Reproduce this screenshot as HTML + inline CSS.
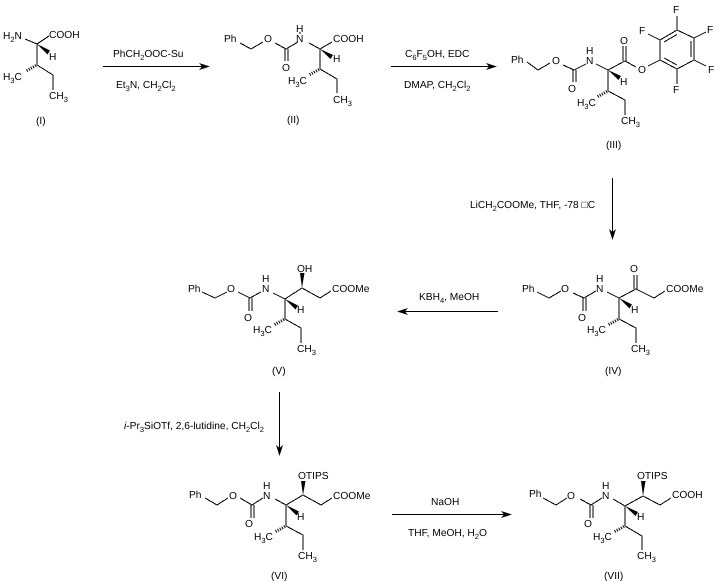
<!DOCTYPE html>
<html><head><meta charset="utf-8"><style>
html,body{margin:0;padding:0;background:#fff;width:722px;height:581px;overflow:hidden}
svg{display:block}
text{font-family:"Liberation Sans",sans-serif;font-size:10.2px;fill:#000;text-rendering:geometricPrecision}
tspan.s{font-size:7.5px}
path.b{fill:none;stroke:#000;stroke-width:1;shape-rendering:crispEdges}
path.h{fill:none;stroke:#000;stroke-width:3;stroke-dasharray:1 1.4}
path.w,polygon{fill:#000;stroke:none}
</style></head><body>
<svg width="722" height="581" viewBox="0 0 722 581" xmlns="http://www.w3.org/2000/svg">
<rect width="722" height="581" fill="#fff"/>

<!-- I -->
<path class="b" d="M25 39L37 44L49 36M37 44V65L53 75V90"/>
<path class="w" d="M37 44L50 50.500L47.500 54.500Z"/>
<path class="h" d="M36 65.500L26 71"/>
<text x="3" y="39">H<tspan class="s" dy="3">2</tspan><tspan dy="-3">N</tspan></text>
<text x="49" y="38">COOH</text>
<text x="49" y="60">H</text>
<text x="3" y="80">H<tspan class="s" dy="3">3</tspan><tspan dy="-3">C</tspan></text>
<text x="49" y="99">CH<tspan class="s" dy="3">3</tspan></text>
<text x="36" y="124">(I)</text>

<!-- Arrow 1 -->
<path class="b" d="M103 66.500H205"/>
<polygon points="210,66.500 199,63 202,66.500 199,70"/>
<text x="113" y="57">PhCH<tspan class="s" dy="3">2</tspan><tspan dy="-3">OOC-Su</tspan></text>
<text x="116" y="88">Et<tspan class="s" dy="3">3</tspan><tspan dy="-3">N, CH</tspan><tspan class="s" dy="3">2</tspan><tspan dy="-3">Cl</tspan><tspan class="s" dy="3">2</tspan></text>

<!-- II -->
<path class="b" d="M240 43L251 49L263 42M275 43L286 49L298 42M285 49V61M288 49V61M300 32V34M309 43L320 49L332 42M320 49V69L337 79V93"/>
<path class="w" d="M320 49L333 55L330.500 59Z"/>
<path class="h" d="M319 69.500L309 75"/>
<text x="224" y="42">Ph</text>
<text x="264" y="42">O</text>
<text x="296" y="42">N</text>
<text x="296" y="32">H</text>
<text x="282" y="71">O</text>
<text x="333" y="42">COOH</text>
<text x="333" y="62">H</text>
<text x="288" y="84">H<tspan class="s" dy="3">3</tspan><tspan dy="-3">C</tspan></text>
<text x="333" y="103">CH<tspan class="s" dy="3">3</tspan></text>
<text x="287" y="123">(II)</text>

<!-- Arrow 2 -->
<path class="b" d="M391 66.500H492"/>
<polygon points="497,66.500 486,63 489,66.500 486,70"/>
<text x="405" y="57">C<tspan class="s" dy="3">6</tspan><tspan dy="-3">F</tspan><tspan class="s" dy="3">5</tspan><tspan dy="-3">OH, EDC</tspan></text>
<text x="404" y="88">DMAP, CH<tspan class="s" dy="3">2</tspan><tspan dy="-3">Cl</tspan><tspan class="s" dy="3">2</tspan></text>

<!-- III -->
<path class="b" d="M527 62L538 70L550 63M563 65L574 70L586 64M573 70V82M576 70V82M596 64L608 70L625 61L636 67M623 46V61M626 46V61M648 66L660 60V40L677 30L694 38V60L677 69L660 60M664 42L677 34.500M691 41V57M664 58L677 65M677 30V16M660 40L648 34M694 38L706 32M694 60L706 66M677 69V84M608 70V91L625 100V115"/>
<path class="w" d="M608 70L621 76L618.500 80Z"/>
<path class="h" d="M607 91.500L597 97"/>
<text x="511" y="63">Ph</text>
<text x="552" y="64">O</text>
<text x="586" y="64">N</text>
<text x="586" y="54">H</text>
<text x="568" y="92">O</text>
<text x="620" y="44">O</text>
<text x="638" y="73">O</text>
<text x="673" y="13">F</text>
<text x="639" y="34">F</text>
<text x="707" y="33">F</text>
<text x="708" y="73">F</text>
<text x="673" y="93">F</text>
<text x="620" y="85">H</text>
<text x="577" y="106">H<tspan class="s" dy="3">3</tspan><tspan dy="-3">C</tspan></text>
<text x="621" y="124">CH<tspan class="s" dy="3">3</tspan></text>
<text x="606" y="148">(III)</text>

<!-- Arrow 3 -->
<path class="b" d="M612.500 178V235"/>
<polygon points="612.500,240 609,229 612.500,232 616,229"/>
<text x="470" y="208">LiCH<tspan class="s" dy="3">2</tspan><tspan dy="-3">COOMe, THF, -78 □C</tspan></text>

<!-- IV -->
<path class="b" d="M537 292L549 298L561 291M573 293L584 298L596 291M583 298V311M586 298V311M607 292L619 298L636 289L654 298L665 291M634 275V289M637 275V289M619 298V319L636 328V343"/>
<path class="w" d="M619 298L632 304.500L629.500 308.500Z"/>
<path class="h" d="M618 319.500L608 325"/>
<text x="522" y="292">Ph</text>
<text x="561" y="292">O</text>
<text x="596" y="292">N</text>
<text x="596" y="282">H</text>
<text x="578" y="321">O</text>
<text x="630" y="272">O</text>
<text x="666" y="292">COOMe</text>
<text x="631" y="313">H</text>
<text x="587" y="333">H<tspan class="s" dy="3">3</tspan><tspan dy="-3">C</tspan></text>
<text x="631" y="352">CH<tspan class="s" dy="3">3</tspan></text>
<text x="605" y="374">(IV)</text>

<!-- Arrow 4 -->
<path class="b" d="M498 311.500H402"/>
<polygon points="397,311.500 408,308 405,311.500 408,315"/>
<text x="419" y="300">KBH<tspan class="s" dy="3">4</tspan><tspan dy="-3">, MeOH</tspan></text>

<!-- V -->
<path class="b" d="M202 292L215 298L227 292M238 292L250 298L261 292M249 298V311M252 298V311M273 293L285 299L302 288L320 298L331 291M285 299V319L301 328V343"/>
<path class="w" d="M285 299L298 305.500L295.500 309.500Z"/>
<path class="w" d="M302 288L300 273H304.500Z"/>
<path class="h" d="M284 319.500L274 325"/>
<text x="188" y="292">Ph</text>
<text x="227" y="292">O</text>
<text x="262" y="292">N</text>
<text x="262" y="282">H</text>
<text x="244" y="321">O</text>
<text x="297" y="272">OH</text>
<text x="332" y="292">COOMe</text>
<text x="297" y="313">H</text>
<text x="253" y="333">H<tspan class="s" dy="3">3</tspan><tspan dy="-3">C</tspan></text>
<text x="297" y="352">CH<tspan class="s" dy="3">3</tspan></text>
<text x="272" y="374">(V)</text>

<!-- Arrow 5 -->
<path class="b" d="M279.500 392V451"/>
<polygon points="279.500,456 276,445 279.500,448 283,445"/>
<text x="124" y="429"><tspan font-style="italic">i</tspan>-Pr<tspan class="s" dy="3">3</tspan><tspan dy="-3">SiOTf, 2,6-lutidine, CH</tspan><tspan class="s" dy="3">2</tspan><tspan dy="-3">Cl</tspan><tspan class="s" dy="3">2</tspan></text>

<!-- VI -->
<path class="b" d="M205 498L217 505L228 498M240 498L252 505L263 498M251 505V518M254 505V518M275 499L286 505L303 495L321 505L332 498M286 505V526L303 535V550"/>
<path class="w" d="M286 505L299 511.500L296.500 515.500Z"/>
<path class="w" d="M303 495L301 481H305.500Z"/>
<path class="h" d="M285 526.500L275 532"/>
<text x="189" y="498">Ph</text>
<text x="229" y="499">O</text>
<text x="263" y="499">N</text>
<text x="263" y="489">H</text>
<text x="245" y="527">O</text>
<text x="298" y="479">OTIPS</text>
<text x="333" y="499">COOMe</text>
<text x="297" y="520">H</text>
<text x="254" y="540">H<tspan class="s" dy="3">3</tspan><tspan dy="-3">C</tspan></text>
<text x="298" y="559">CH<tspan class="s" dy="3">3</tspan></text>
<text x="271" y="579">(VI)</text>

<!-- Arrow 6 -->
<path class="b" d="M392 514.500H507"/>
<polygon points="512,514.500 501,511 504,514.500 501,518"/>
<text x="431" y="505">NaOH</text>
<text x="408" y="536">THF, MeOH, H<tspan class="s" dy="3">2</tspan><tspan dy="-3">O</tspan></text>

<!-- VII -->
<path class="b" d="M543 498L556 505L567 498M580 499L591 505L602 498M590 505V518M593 505V518M613 499L625 506L643 496L660 505L671 498M625 506V526L642 536V550"/>
<path class="w" d="M625 506L638 512L635.500 516Z"/>
<path class="w" d="M643 496L641 481H645.500Z"/>
<path class="h" d="M624 526.500L614 532"/>
<text x="529" y="497">Ph</text>
<text x="567" y="499">O</text>
<text x="602" y="499">N</text>
<text x="602" y="489">H</text>
<text x="584" y="527">O</text>
<text x="637" y="479">OTIPS</text>
<text x="672" y="498">COOH</text>
<text x="637" y="520">H</text>
<text x="593" y="540">H<tspan class="s" dy="3">3</tspan><tspan dy="-3">C</tspan></text>
<text x="637" y="559">CH<tspan class="s" dy="3">3</tspan></text>
<text x="604" y="579">(VII)</text>
</svg>
</body></html>
